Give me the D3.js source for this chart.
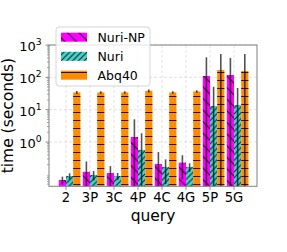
<!DOCTYPE html>
<html><head><meta charset="utf-8">
<script src="https://cdn.jsdelivr.net/npm/d3@7"></script>
<style>html,body{margin:0;padding:0;background:#fff;}svg{display:block;font-family:"DejaVu Sans",sans-serif;}</style>
</head><body>
<script>
const categories = ["2","3P","3C","4P","4C","4G","5P","5G"];
const seriesNames = ["Nuri-NP","Nuri","Abq40"];
const nuriNP    = [0.067, 0.12, 0.11, 1.43, 0.21, 0.23, 110, 118];
const nuriNPErr = [0.018, 0.13, 0.07, 3.6, 0.28, 0.16, 307, 280];
const nuri      = [0.089, 0.096, 0.089, 0.57, 0.17, 0.17, 13.0, 13.9];
const nuriErr   = [0.019, 0.031, 0.021, 1.29, 0.12, 0.05, 38, 33];
const abq40     = [34.2, 34.2, 34.2, 38.3, 34.2, 36.7, 169, 157];
const abq40Err  = [3.5, 3, 3, 4, 3, 3.5, 358, 370];
const yTickValues = [1, 10, 100, 1000];
const yTickExps = ["0","1","2","3"];

const W = 287, H = 252;
const L = 49, R = 257, T = 45, B = 186.3;
const svg = d3.select("body").append("svg").attr("width", W).attr("height", H);

const x = d3.scaleLinear().domain([-0.708, 7.958]).range([L, R]);
const y = d3.scaleLog().domain([0.0427, 1000]).range([B, T]);
const bw = 0.3;

// patterns
const defs = svg.append("defs");
function pat(id, s, d) {
  const p = defs.append("pattern").attr("id", id).attr("patternUnits", "userSpaceOnUse")
    .attr("width", s).attr("height", s);
  p.append("path").attr("d", d).attr("stroke", "#000").attr("stroke-width", 1)
    .attr("stroke-opacity", 0.85).attr("fill", "none");
}
const s1 = 11.6, s2 = 5.8, s3 = 8;
pat("hNP", s1, `M0,0L${s1},${s1}M${s1-1},-1L${s1+1},1M-1,${s1-1}L1,${s1+1}`);
pat("hNuri", s2, `M0,${s2}L${s2},0M-1,1L1,-1M${s2-1},${s2+1}L${s2+1},${s2-1}`);
pat("hAbq", s3, `M0,0.5L${s3},0.5`);

const series = [
  {name: seriesNames[0], vals: nuriNP, errs: nuriNPErr, color: "#ff00ff", hatch: "hNP", off: -0.3},
  {name: seriesNames[1], vals: nuri, errs: nuriErr, color: "#48d1cc", hatch: "hNuri", off: 0},
  {name: seriesNames[2], vals: abq40, errs: abq40Err, color: "#ff8c00", hatch: "hAbq", off: 0.3}
];

// grid
const grid = svg.append("g");
yTickValues.forEach(v => {
  grid.append("line").attr("x1", L).attr("x2", R).attr("y1", y(v)).attr("y2", y(v))
    .attr("stroke", "#d9d9d9").attr("stroke-width", 0.8).attr("stroke-dasharray", "3,2");
});
categories.forEach((c, i) => {
  grid.append("line").attr("x1", x(i)).attr("x2", x(i)).attr("y1", T).attr("y2", B)
    .attr("stroke", "#d9d9d9").attr("stroke-width", 0.8).attr("stroke-dasharray", "3,2");
});

// bars
const bars = svg.append("g");
series.forEach(s => {
  s.vals.forEach((v, i) => {
    const x0 = x(i + s.off), x1 = x(i + s.off + bw);
    bars.append("rect").attr("x", x0).attr("y", y(v)).attr("width", x1 - x0).attr("height", B - y(v))
      .attr("fill", s.color);
    bars.append("rect").attr("x", x0).attr("y", y(v)).attr("width", x1 - x0).attr("height", B - y(v))
      .attr("fill", `url(#${s.hatch})`);
  });
});
// error bars
series.forEach(s => {
  s.vals.forEach((v, i) => {
    const cx = x(i + s.off + bw / 2);
    const lo = Math.max(v - s.errs[i], y.domain()[0]);
    svg.append("line").attr("x1", cx).attr("x2", cx).attr("y1", y(v + s.errs[i])).attr("y2", y(lo))
      .attr("stroke", "#000").attr("stroke-opacity", 0.68).attr("stroke-width", 1.6);
  });
});

// spines
svg.append("rect").attr("x", L).attr("y", T).attr("width", R - L).attr("height", B - T)
  .attr("fill", "none").attr("stroke", "#808080").attr("stroke-width", 1);

// y ticks
const minor = [];
for (let k = -2; k <= 2; k++) for (let m = 2; m <= 9; m++) {
  const v = m * Math.pow(10, k);
  if (v >= y.domain()[0] && v <= 1000) minor.push(v);
}
minor.forEach(v => svg.append("line").attr("x1", L - 2).attr("x2", L).attr("y1", y(v)).attr("y2", y(v))
  .attr("stroke", "#808080").attr("stroke-width", 0.7));
yTickValues.forEach((v, i) => {
  svg.append("line").attr("x1", L - 3.5).attr("x2", L).attr("y1", y(v)).attr("y2", y(v))
    .attr("stroke", "#808080").attr("stroke-width", 0.9);
  const t = svg.append("text").attr("x", 41.7).attr("y", y(v) + 6).attr("text-anchor", "end")
    .attr("font-size", 13).attr("fill", "#000").text("10");
  t.append("tspan").attr("dy", -6).attr("font-size", 9.2).text(yTickExps[i]);
});

// x ticks
categories.forEach((c, i) => {
  svg.append("line").attr("x1", x(i)).attr("x2", x(i)).attr("y1", B).attr("y2", B + 3.5)
    .attr("stroke", "#808080").attr("stroke-width", 0.9);
  svg.append("text").attr("x", x(i)).attr("y", 201.5).attr("text-anchor", "middle")
    .attr("font-size", 13.2).attr("fill", "#000").text(c);
});

// axis labels
svg.append("text").attr("x", (L + R) / 2).attr("y", 220.5).attr("text-anchor", "middle")
  .attr("font-size", 15.5).text("query");
svg.append("text").attr("transform", `translate(12.5,${(T + B) / 2}) rotate(-90)`)
  .attr("text-anchor", "middle").attr("font-size", 15.5).text("time (seconds)");

// legend
const lg = svg.append("g");
lg.append("rect").attr("x", 56).attr("y", 27).attr("width", 94).attr("height", 59).attr("rx", 3)
  .attr("fill", "#fff").attr("fill-opacity", 0.8).attr("stroke", "#cccccc").attr("stroke-width", 0.8);
const ly = [37.2, 56.3, 75.2];
series.forEach((s, i) => {
  lg.append("rect").attr("x", 61).attr("y", ly[i] - 4.5).attr("width", 26).attr("height", 9).attr("fill", s.color);
  lg.append("rect").attr("x", 61).attr("y", ly[i] - 4.5).attr("width", 26).attr("height", 9).attr("fill", `url(#${s.hatch})`);
  lg.append("text").attr("x", 97.5).attr("y", ly[i] + 4.5).attr("font-size", 12.5).text(s.name);
});
</script>
</body></html>
